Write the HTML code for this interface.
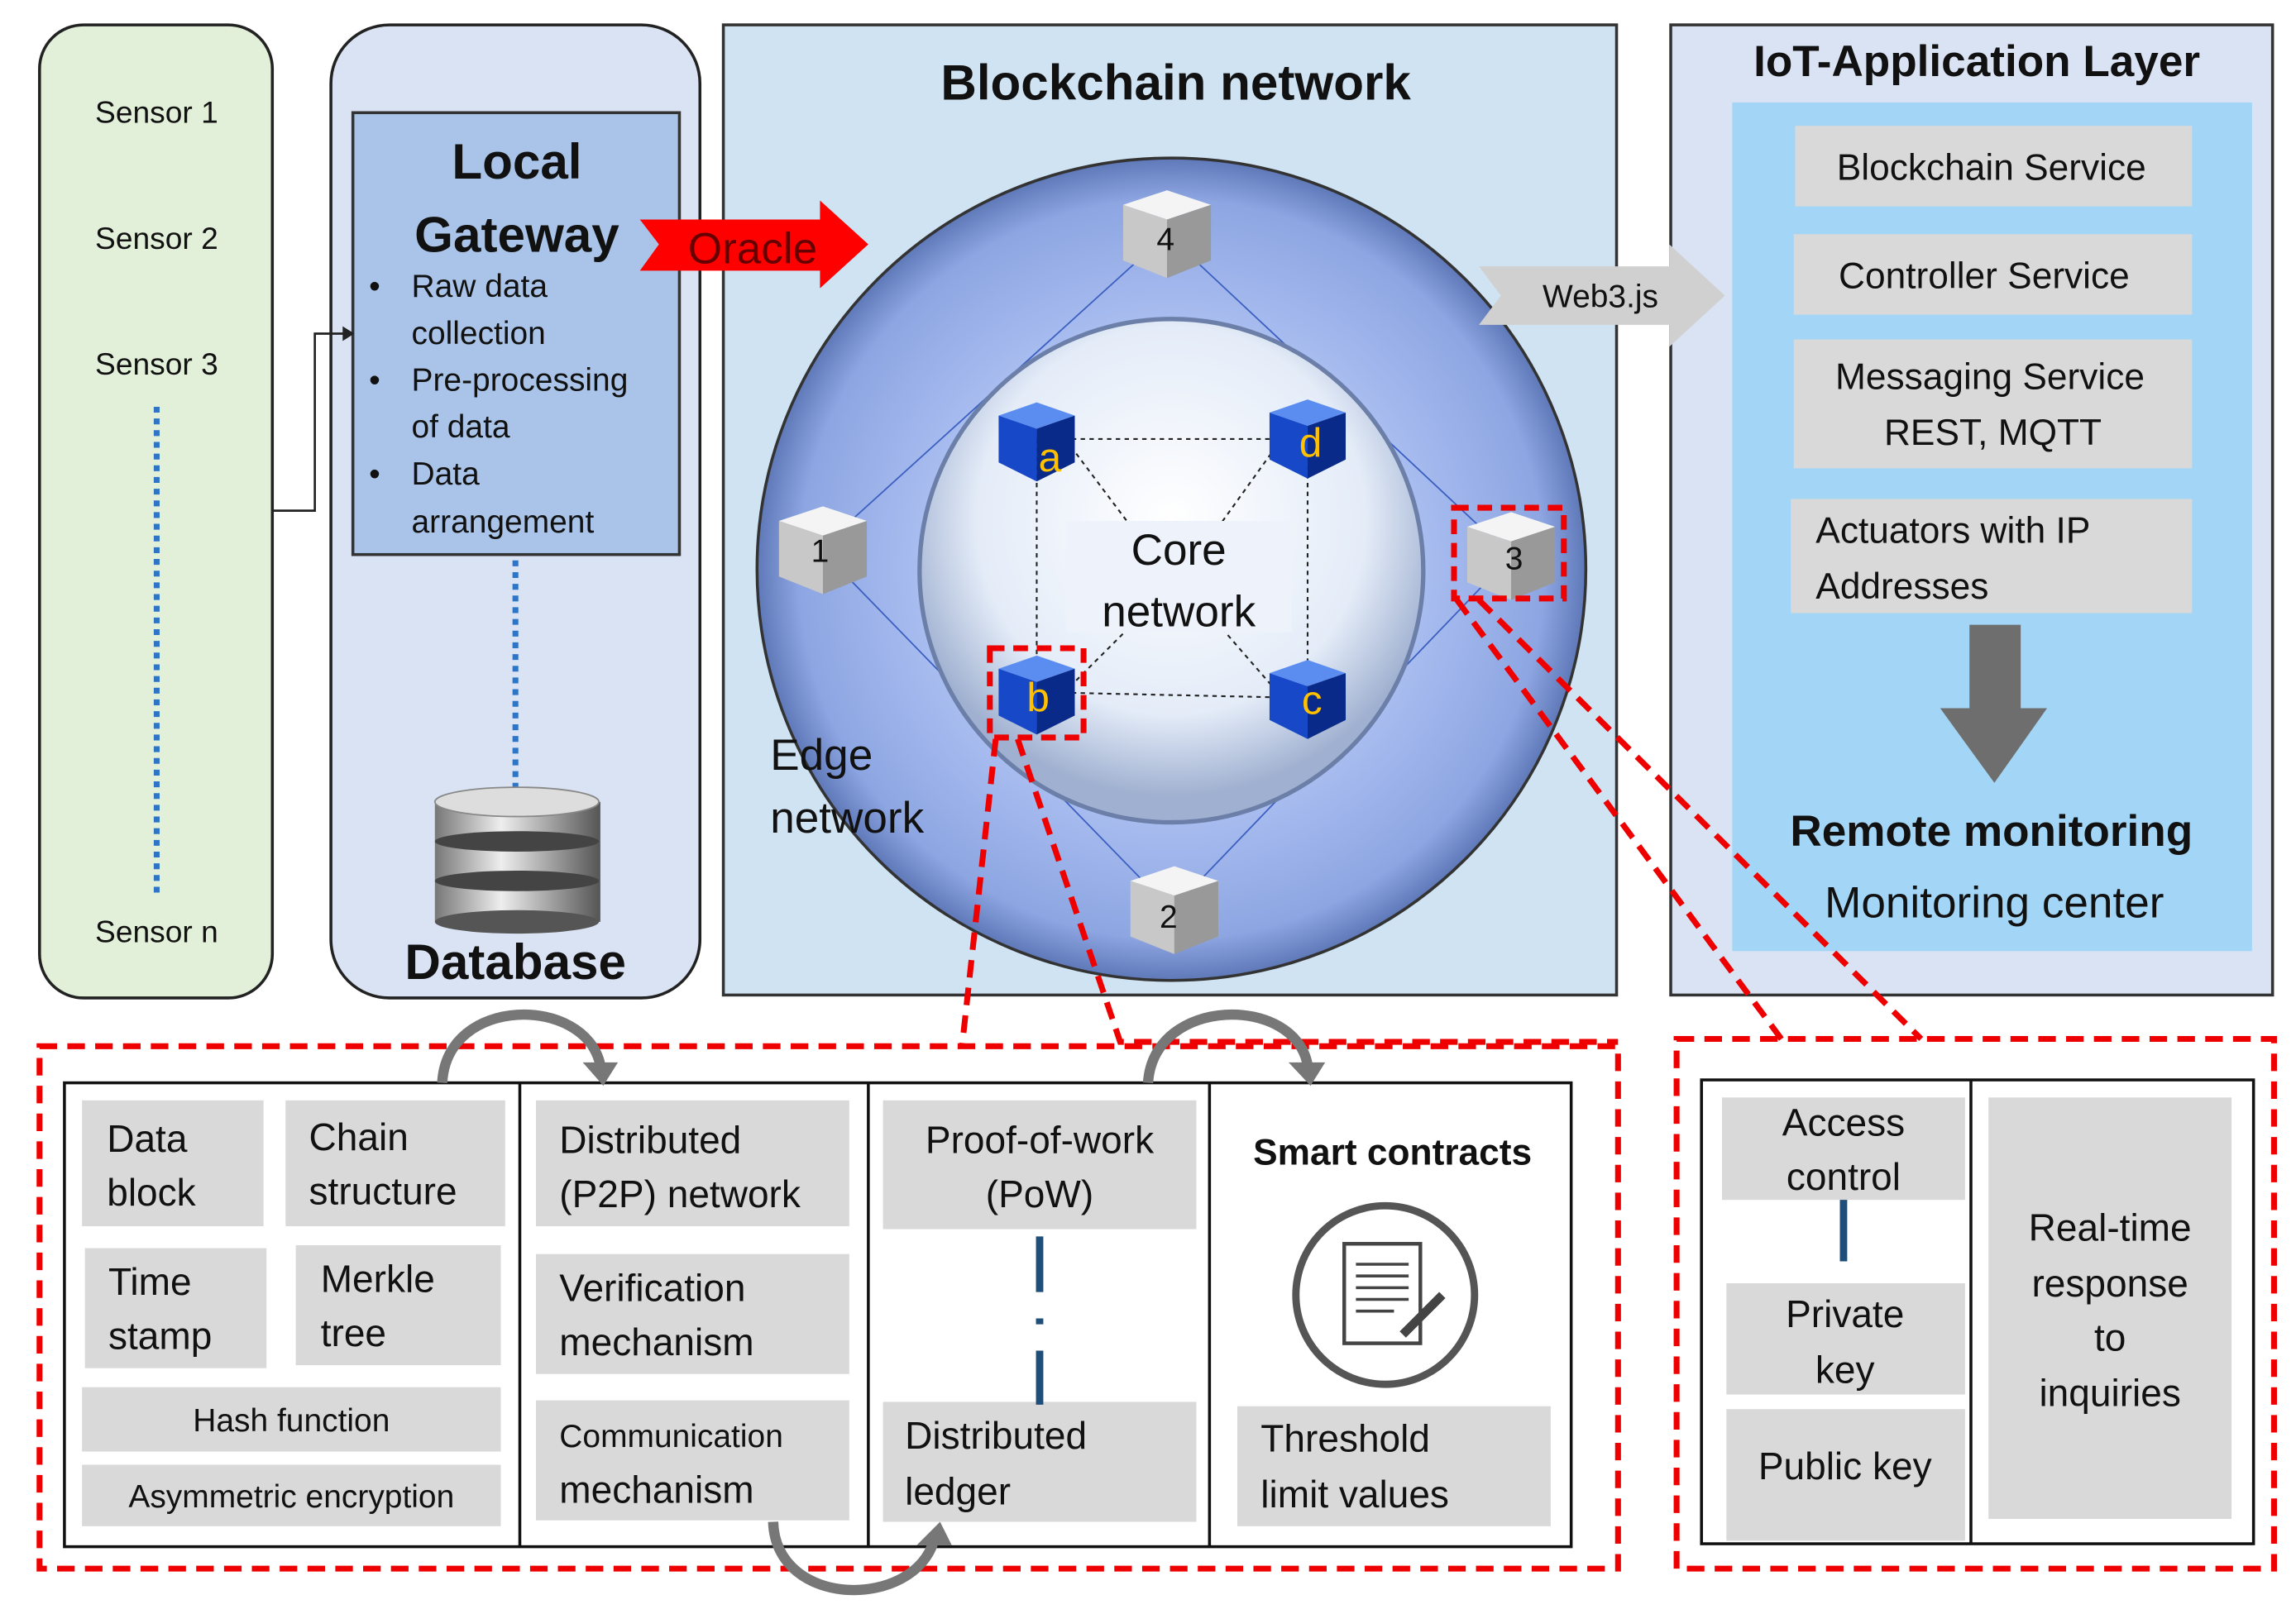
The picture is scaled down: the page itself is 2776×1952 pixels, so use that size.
<!DOCTYPE html>
<html><head><meta charset="utf-8"><style>html,body{margin:0;padding:0;background:#fff}svg{display:block}text{font-family:"Liberation Sans",sans-serif;fill:#111}</style></head><body>
<svg width="2776" height="1952" viewBox="0 0 1568 1103" preserveAspectRatio="none" xmlns="http://www.w3.org/2000/svg">
<defs>
<radialGradient id="ring" cx="50%" cy="50%" r="50%"><stop offset="0.6" stop-color="#a9bdf0"/><stop offset="0.9" stop-color="#8da6e2"/><stop offset="1" stop-color="#5f78b8"/></radialGradient>
<radialGradient id="core" cx="50%" cy="40%" r="55%"><stop offset="0" stop-color="#ffffff"/><stop offset="0.7" stop-color="#e4ecf8"/><stop offset="1" stop-color="#9fb0d0"/></radialGradient>
<linearGradient id="cyl" x1="0" x2="1"><stop offset="0" stop-color="#777"/><stop offset="0.4" stop-color="#eee"/><stop offset="1" stop-color="#555"/></linearGradient>
<g id="gcube"><polygon points="-30,-20 0,-30 30,-20 0,-10" fill="#f4f4f4"/><polygon points="-30,-20 0,-10 0,30 -30,18" fill="#c8c8c8"/><polygon points="30,-20 0,-10 0,30 30,18" fill="#999"/></g>
<g id="bcube"><polygon points="-26,-18 0,-27 26,-18 0,-9" fill="#5b8cf0"/><polygon points="-26,-18 0,-9 0,27 -26,14" fill="#1748c8"/><polygon points="26,-18 0,-9 0,27 26,14" fill="#0a2a8a"/></g>
</defs>
<!-- Sensors -->
<rect x="27" y="17" width="159" height="665" rx="30" fill="#e2f0d9" stroke="#222" stroke-width="2"/>
<g font-size="21" text-anchor="middle"><text x="107" y="84">Sensor 1</text><text x="107" y="170">Sensor 2</text><text x="107" y="256">Sensor 3</text><text x="107" y="644">Sensor n</text></g>
<line x1="107" y1="278" x2="107" y2="610" stroke="#2e75c6" stroke-width="4" stroke-dasharray="4,4"/>
<!-- Gateway -->
<rect x="226" y="17" width="252" height="665" rx="40" fill="#dae3f3" stroke="#222" stroke-width="2"/>
<rect x="241" y="77" width="223" height="302" fill="#a9c4e8" stroke="#333" stroke-width="2"/>
<text x="353" y="122" font-size="34" font-weight="bold" text-anchor="middle">Local</text>
<text x="353" y="172" font-size="34" font-weight="bold" text-anchor="middle">Gateway</text>
<g font-size="22"><text x="252" y="203">•</text><text x="281" y="203">Raw data</text><text x="281" y="235">collection</text><text x="252" y="267">•</text><text x="281" y="267">Pre-processing</text><text x="281" y="299">of data</text><text x="252" y="331">•</text><text x="281" y="331">Data</text><text x="281" y="364">arrangement</text></g>
<polyline points="186,349 215,349 215,228 236,228" fill="none" stroke="#222" stroke-width="1.5"/><polygon points="242,228 234,223 234,233" fill="#222"/>
<line x1="352" y1="383" x2="352" y2="540" stroke="#2e75c6" stroke-width="4" stroke-dasharray="4,4"/>
<g><rect x="297" y="548" width="113" height="82" fill="url(#cyl)"/><ellipse cx="353" cy="630" rx="56" ry="8" fill="#555"/><ellipse cx="353" cy="575" rx="56" ry="7" fill="#444"/><ellipse cx="353" cy="602" rx="56" ry="7" fill="#444"/><ellipse cx="353" cy="548" rx="56" ry="10" fill="#ddd" stroke="#888"/></g>
<text x="352" y="669" font-size="34" font-weight="bold" text-anchor="middle">Database</text>
<!-- Blockchain -->
<rect x="494" y="17" width="610" height="663" fill="#cfe3f3" stroke="#333" stroke-width="2"/>
<text x="803" y="68" font-size="34" font-weight="bold" text-anchor="middle">Blockchain network</text>
<ellipse cx="800" cy="389" rx="283" ry="281" fill="url(#ring)" stroke="#333" stroke-width="2"/>
<g stroke="#3a5fc0" stroke-width="1"><line x1="797" y1="160" x2="560" y2="375"/><line x1="797" y1="160" x2="1032" y2="380"/><line x1="560" y1="375" x2="800" y2="622"/><line x1="1032" y1="380" x2="800" y2="622"/></g>
<circle cx="800" cy="390" r="172" fill="url(#core)" stroke="#6c7fa8" stroke-width="3"/>
<g stroke="#222" stroke-width="1.2" stroke-dasharray="3,3" fill="none"><line x1="708" y1="300" x2="893" y2="300"/><line x1="708" y1="473" x2="893" y2="477"/><line x1="708" y1="300" x2="708" y2="473"/><line x1="893" y1="300" x2="893" y2="477"/><line x1="735" y1="310" x2="780" y2="370"/><line x1="868" y1="310" x2="825" y2="370"/><line x1="735" y1="465" x2="770" y2="430"/><line x1="868" y1="468" x2="835" y2="430"/></g>
<rect x="728" y="356" width="154" height="76" fill="#eef3fb"/>
<text x="805" y="386" font-size="30" text-anchor="middle">Core</text><text x="805" y="428" font-size="30" text-anchor="middle">network</text>
<text x="526" y="526" font-size="30">Edge</text><text x="526" y="569" font-size="30">network</text>
<use href="#gcube" x="797" y="160"/><use href="#gcube" x="562" y="376"/><use href="#gcube" x="1032" y="380"/><use href="#gcube" x="802" y="622"/>
<g font-size="22" text-anchor="middle"><text x="796" y="171">4</text><text x="560" y="384">1</text><text x="1034" y="389">3</text><text x="798" y="634">2</text></g>
<use href="#bcube" x="708" y="302"/><use href="#bcube" x="893" y="300"/><use href="#bcube" x="708" y="475"/><use href="#bcube" x="893" y="478"/>
<g font-size="28" text-anchor="middle"><text x="717" y="322" style="fill:#ffc000">a</text><text x="895" y="312" style="fill:#ffc000">d</text><text x="709" y="486" style="fill:#ffc000">b</text><text x="896" y="488" style="fill:#ffc000">c</text></g>
<g fill="none" stroke="#e00" stroke-width="4" stroke-dasharray="10,6"><rect x="676" y="443" width="64" height="61"/><rect x="993" y="347" width="75" height="62"/></g>
<!-- Oracle -->
<polygon points="437,150 560,150 560,137 593,167 560,197 560,185 437,185 450,167" fill="#f00"/>
<text x="514" y="180" font-size="30" text-anchor="middle" style="fill:#600">Oracle</text>
<!-- IoT -->
<rect x="1141" y="17" width="411" height="663" fill="#dae3f3" stroke="#333" stroke-width="2"/>
<text x="1350" y="52" font-size="30" font-weight="bold" text-anchor="middle">IoT-Application Layer</text>
<rect x="1183" y="70" width="355" height="580" fill="#a3d6f6"/>
<!-- Web3 -->
<polygon points="1010,182 1140,182 1140,167 1178,202 1140,237 1140,222 1010,222 1025,202" fill="#d0d0d0"/>
<text x="1093" y="210" font-size="22" text-anchor="middle">Web3.js</text>
<g fill="#d9d9d9"><rect x="1226" y="86" width="271" height="55"/><rect x="1225" y="160" width="272" height="55"/><rect x="1225" y="232" width="272" height="88"/><rect x="1223" y="341" width="274" height="78"/></g>
<g font-size="25" text-anchor="middle"><text x="1360" y="123">Blockchain Service</text><text x="1355" y="197">Controller Service</text><text x="1359" y="266">Messaging Service</text><text x="1361" y="304">REST, MQTT</text></g>
<g font-size="25"><text x="1240" y="371">Actuators with IP</text><text x="1240" y="409">Addresses</text></g>
<polygon points="1345,427 1380,427 1380,484 1398,484 1362,535 1325,484 1345,484" fill="#6e6e6e"/>
<text x="1360" y="578" font-size="30" font-weight="bold" text-anchor="middle">Remote monitoring</text>
<text x="1362" y="627" font-size="30" text-anchor="middle">Monitoring center</text>
<!-- red dashed connectors -->
<g fill="none" stroke="#e00" stroke-width="4" stroke-dasharray="12,7"><polyline points="680,505 657,715"/><polyline points="695,505 765,712 1105,712"/><polyline points="995,410 1218,712"/><polyline points="1010,410 1312,710"/>
<rect x="27" y="715" width="1078" height="357"/><rect x="1145" y="710" width="408" height="362"/></g>
<!-- bottom boxes -->
<rect x="44" y="740" width="1029" height="317" fill="#fff" stroke="#111" stroke-width="2"/>
<g stroke="#111" stroke-width="2"><line x1="355" y1="740" x2="355" y2="1057"/><line x1="593" y1="740" x2="593" y2="1057"/><line x1="826" y1="740" x2="826" y2="1057"/></g>
<g fill="#d9d9d9"><rect x="56" y="752" width="124" height="86"/><rect x="195" y="752" width="150" height="86"/><rect x="58" y="853" width="124" height="82"/><rect x="202" y="851" width="140" height="82"/><rect x="56" y="948" width="286" height="44"/><rect x="56" y="1001" width="286" height="42"/>
<rect x="366" y="752" width="214" height="86"/><rect x="366" y="857" width="214" height="82"/><rect x="366" y="957" width="214" height="82"/>
<rect x="603" y="752" width="214" height="88"/><rect x="603" y="958" width="214" height="82"/><rect x="845" y="961" width="214" height="82"/></g>
<g font-size="26"><text x="73" y="787">Data</text><text x="73" y="824">block</text><text x="211" y="786">Chain</text><text x="211" y="823">structure</text><text x="74" y="885">Time</text><text x="74" y="922">stamp</text><text x="219" y="883">Merkle</text><text x="219" y="920">tree</text>
<text x="382" y="788">Distributed</text><text x="382" y="825">(P2P) network</text><text x="382" y="889">Verification</text><text x="382" y="926">mechanism</text><text x="382" y="1027">mechanism</text>
<text x="618" y="990">Distributed</text><text x="618" y="1028">ledger</text><text x="861" y="992">Threshold</text><text x="861" y="1030">limit values</text></g>
<text x="382" y="989" font-size="22">Communication</text>
<g font-size="22" text-anchor="middle"><text x="199" y="978">Hash function</text><text x="199" y="1030">Asymmetric encryption</text></g>
<g font-size="26" text-anchor="middle"><text x="710" y="788">Proof-of-work</text><text x="710" y="825">(PoW)</text></g>
<line x1="710" y1="845" x2="710" y2="960" stroke="#1f4e79" stroke-width="5" stroke-dasharray="38,18,4,18"/>
<text x="951" y="796" font-size="25" font-weight="bold" text-anchor="middle">Smart contracts</text>
<circle cx="946" cy="885" r="61" fill="#fff" stroke="#555" stroke-width="5"/>
<rect x="918" y="850" width="52" height="68" fill="#fff" stroke="#444" stroke-width="2.5"/>
<g stroke="#444" stroke-width="2"><line x1="926" y1="864" x2="962" y2="864"/><line x1="926" y1="872" x2="962" y2="872"/><line x1="926" y1="880" x2="962" y2="880"/><line x1="926" y1="888" x2="962" y2="888"/><line x1="926" y1="896" x2="952" y2="896"/></g>
<line x1="958" y1="912" x2="985" y2="885" stroke="#444" stroke-width="6"/>
<!-- right bottom -->
<rect x="1162" y="738" width="377" height="317" fill="#fff" stroke="#111" stroke-width="2"/>
<line x1="1346" y1="738" x2="1346" y2="1055" stroke="#111" stroke-width="2"/>
<g fill="#d9d9d9"><rect x="1176" y="750" width="166" height="70"/><rect x="1179" y="877" width="163" height="76"/><rect x="1179" y="963" width="163" height="90"/><rect x="1358" y="750" width="166" height="288"/></g>
<line x1="1259" y1="820" x2="1259" y2="862" stroke="#1f4e79" stroke-width="5"/>
<g font-size="26" text-anchor="middle"><text x="1259" y="776">Access</text><text x="1259" y="813">control</text><text x="1260" y="907">Private</text><text x="1260" y="945">key</text><text x="1260" y="1011">Public key</text><text x="1441" y="848">Real-time</text><text x="1441" y="886">response</text><text x="1441" y="923">to</text><text x="1441" y="961">inquiries</text></g>
<!-- curved arrows -->
<g fill="none" stroke="#777" stroke-width="7"><path d="M302,740 C305,680 400,680 410,728"/><path d="M784,740 C788,680 885,680 893,728"/><path d="M528,1040 C530,1100 625,1100 638,1052"/></g>
<g fill="#777"><polygon points="398,726 422,726 412,742"/><polygon points="880,726 905,726 895,742"/><polygon points="626,1056 650,1056 642,1040"/></g>
</svg>
</body></html>
